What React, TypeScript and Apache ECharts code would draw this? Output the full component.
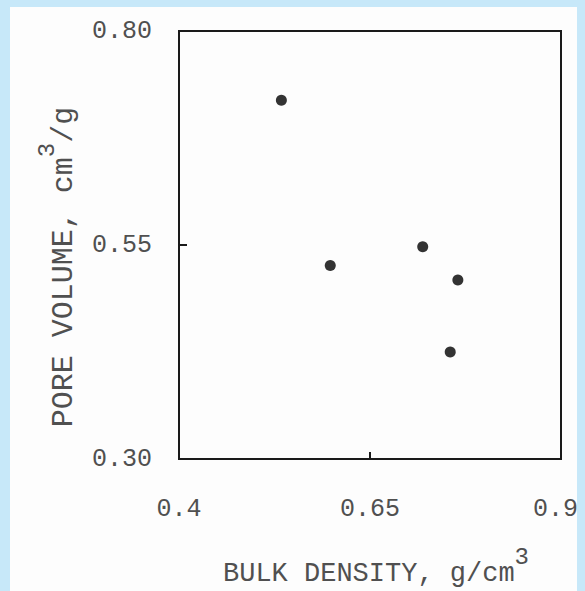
import React, { useEffect, useRef } from "react";
import * as echarts from "echarts";

const bulkDensity = [0.534, 0.598, 0.719, 0.765, 0.755];
const poreVolume = [0.719, 0.526, 0.548, 0.509, 0.425];
const xTicks = [0.4, 0.65, 0.9];
const yTicks = [0.3, 0.55, 0.8];

const FONT = "'Liberation Mono', 'DejaVu Sans Mono', monospace";
const TEXT = "#505050";

export default function App() {
  const ref = useRef<HTMLDivElement>(null);
  useEffect(() => {
    document.body.style.margin = "0";
    if (!ref.current) return;
    const chart = echarts.init(ref.current, undefined, { renderer: "svg" });
    const points = bulkDensity.map((x, i) => [x, poreVolume[i]]);
    const xMax = xTicks[xTicks.length - 1];
    chart.setOption({
      animation: false,
      backgroundColor: "transparent",
      grid: {
        left: 179,
        right: 24,
        top: 31,
        bottom: 132,
        outerBoundsMode: "none",
        containLabel: false,
        show: true,
        borderColor: "#1a1a1a",
        borderWidth: 2,
        backgroundColor: "transparent",
      },
      xAxis: {
        type: "value",
        min: 0.4,
        max: 0.9,
        axisLine: { show: false },
        splitLine: { show: false },
        axisTick: {
          show: true,
          inside: true,
          length: 7,
          customValues: [0.65],
          lineStyle: { color: "#1a1a1a", width: 2 },
        },
        axisLabel: {
          customValues: xTicks,
          margin: 38,
          color: TEXT,
          fontFamily: FONT,
          fontSize: 25,
          formatter: (v: number) => (v === xMax ? "{r|" + String(v) + "}" : String(v)),
          rich: {
            r: { fontFamily: FONT, fontSize: 25, color: TEXT, width: 56, align: "left" },
          },
        },
        name: "{a|BULK DENSITY, g/cm}{s|3}",
        nameLocation: "middle",
        nameGap: 86,
        nameTextStyle: {
          padding: [0, 0, 0, 12],
          rich: {
            a: { fontFamily: FONT, fontSize: 27, color: TEXT, verticalAlign: "bottom" },
            s: {
              fontFamily: FONT,
              fontSize: 24,
              color: TEXT,
              verticalAlign: "bottom",
              padding: [0, 0, 18, 0],
            },
          },
        },
      },
      yAxis: {
        type: "value",
        min: 0.3,
        max: 0.8,
        axisLine: { show: false },
        splitLine: { show: false },
        axisTick: {
          show: true,
          inside: true,
          length: 8,
          customValues: [0.55],
          lineStyle: { color: "#1a1a1a", width: 2 },
        },
        axisLabel: {
          customValues: yTicks,
          margin: 27,
          color: TEXT,
          fontFamily: FONT,
          fontSize: 25,
          formatter: (v: number) => v.toFixed(2),
        },
        name: "{a|PORE VOLUME, cm}{s|3}{a|/g}",
        nameLocation: "middle",
        nameGap: 100,
        nameRotate: 90,
        nameTextStyle: {
          padding: [0, 44, 0, 0],
          rich: {
            a: { fontFamily: FONT, fontSize: 30, color: TEXT, verticalAlign: "bottom" },
            s: {
              fontFamily: FONT,
              fontSize: 24,
              color: TEXT,
              verticalAlign: "bottom",
              padding: [0, 0, 20, 0],
            },
          },
        },
      },
      series: [
        {
          type: "scatter",
          data: points,
          symbol: "circle",
          symbolSize: 11,
          itemStyle: { color: "#000" },
        },
      ],
    });
    return () => chart.dispose();
  }, []);

  return (
    <div style={{ position: "absolute", left: 0, top: 0, width: 585, height: 591, background: "#C7E8F9" }}>
      <div style={{ position: "absolute", left: 10, top: 7, width: 567, height: 584, background: "#FDFDFD" }} />
      <div ref={ref} style={{ position: "absolute", left: 0, top: 0, width: 585, height: 591 }} />
    </div>
  );
}
